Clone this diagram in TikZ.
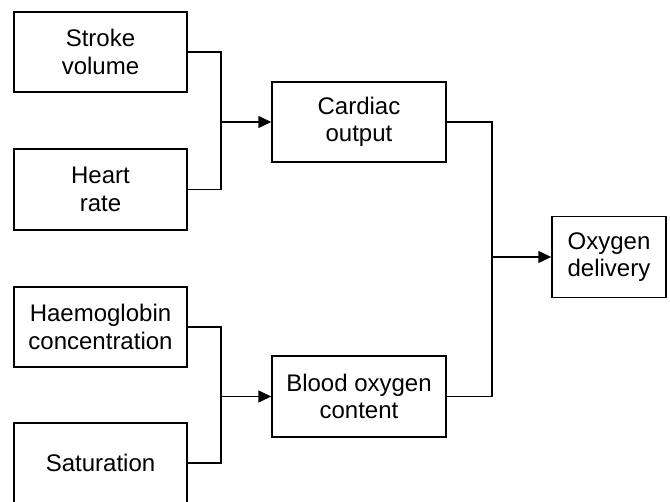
\documentclass[tikz,border=0pt]{standalone}
\usepackage{fontspec}
\setmainfont{Liberation Sans}
\usetikzlibrary{arrows.meta}
\begin{document}
\begin{tikzpicture}[x=1pt,y=-1pt,
  box/.style={draw, line width=1.5pt, rectangle, align=center, inner sep=0pt,
    font=\fontsize{24}{27.5}\selectfont},
  conn/.style={line width=1.6pt},
  arr/.style={line width=1.6pt, -{Triangle[length=13pt,width=12pt]}}]
\useasboundingbox (0,0) rectangle (670,502);
\node[box, minimum width=173pt, minimum height=80pt] (sv) at (100.5,52) {Stroke\\volume};
\node[box, minimum width=173pt, minimum height=81pt] (hr) at (100.5,189.5) {Heart\\rate};
\node[box, minimum width=173pt, minimum height=80pt] (hb) at (100.5,327) {Haemoglobin\\concentration};
\node[box, minimum width=173pt, minimum height=80pt] (sat) at (100.5,463) {Saturation};
\node[box, minimum width=174pt, minimum height=80pt] (co) at (359,122) {Cardiac\\output};
\node[box, minimum width=174pt, minimum height=81pt] (bo) at (359,396.5) {Blood oxygen\\content};
\node[box, minimum width=114pt, minimum height=81pt] (od) at (609,257) {Oxygen\\delivery};
\coordinate (j1) at (221,122);
\coordinate (j2) at (221,396.5);
\coordinate (j3) at (492,257);
\draw[conn] (sv.east) -| (j1);
\draw[conn] (hr.east) -| (j1);
\draw[arr] (j1) -- (co.west);
\draw[conn] (hb.east) -| (j2);
\draw[conn] (sat.east) -| (j2);
\draw[arr] (j2) -- (bo.west);
\draw[conn] (co.east) -| (j3);
\draw[conn] (bo.east) -| (j3);
\draw[arr] (j3) -- (od.west);
\end{tikzpicture}
\end{document}
